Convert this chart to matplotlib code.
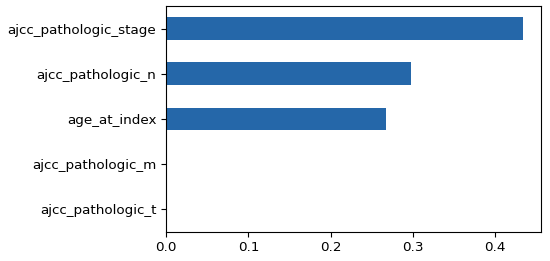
import pandas as pd
import matplotlib
matplotlib.use('Agg')
import matplotlib.pyplot as plt

#--- feature importances (bottom to top)
features = ['ajcc_pathologic_t', 'ajcc_pathologic_m', 'age_at_index',
            'ajcc_pathologic_n', 'ajcc_pathologic_stage']
importance = [0.0, 0.0, 0.267, 0.297, 0.434]

s = pd.Series(importance, index=features)

fig, ax = plt.subplots(figsize=(5.5, 2.61), dpi=100)
fig.subplots_adjust(left=0.302, right=0.984, bottom=0.112, top=0.977)

s.plot.barh(ax=ax, color='#2567a9')
ax.tick_params(labelsize=9.7)

fig.savefig('out.png', dpi=100)
